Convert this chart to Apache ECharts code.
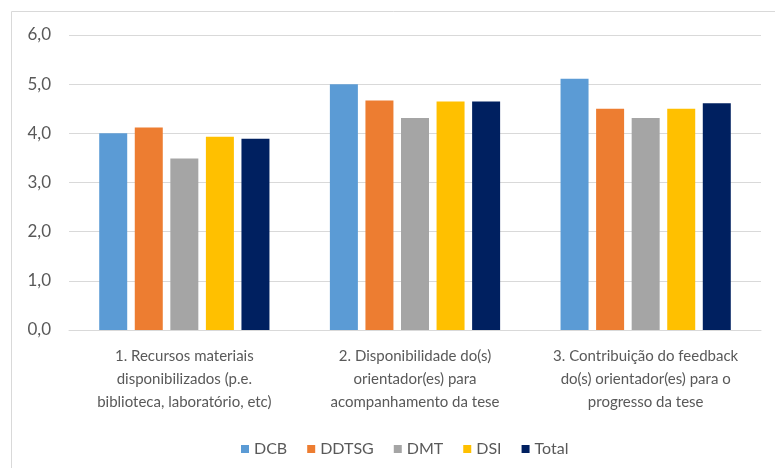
<!DOCTYPE html>
<html>
<head>
<meta charset="utf-8">
<script src="https://cdn.jsdelivr.net/npm/echarts@6/dist/echarts.min.js"></script>
<style>
  html, body { margin: 0; padding: 0; background: #fff; }
  #chart { width: 775px; height: 468px; }
</style>
</head>
<body>
<div id="chart"></div>
<script>
// categorias do eixo x
var categories = [
    '1. Recursos materiais\ndisponibilizados (p.e.\nbiblioteca, laboratório, etc)',
    '2. Disponibilidade do(s)\norientador(es) para\nacompanhamento da tese',
    '3. Contribuição do feedback\ndo(s) orientador(es) para o\nprogresso da tese'
];
var seriesNames = ['DCB', 'DDTSG', 'DMT', 'DSI', 'Total'];
var dcb = [4.00, 5.00, 5.11];
var ddtsg = [4.12, 4.67, 4.50];
var dmt = [3.49, 4.31, 4.31];
var dsi = [3.93, 4.65, 4.50];
var total = [3.89, 4.65, 4.61];
var colors = ['#5B9BD5', '#ED7D31', '#A5A5A5', '#FFC000', '#002060'];

var font = "Lato, 'Open Sans', sans-serif";
var chart = echarts.init(document.getElementById('chart'));

var values = [dcb, ddtsg, dmt, dsi, total];
var series = [];
for (var i = 0; i < seriesNames.length; i++) {
    series.push({
        name: seriesNames[i],
        type: 'bar',
        data: values[i],
        barWidth: 28,
        barGap: '27%',
        itemStyle: { color: colors[i] }
    });
}

chart.setOption({
    animation: false,
    color: colors,
    textStyle: { fontFamily: font },
    graphic: [{
        type: 'rect',
        shape: { x: 11.5, y: 11.5, width: 800, height: 500 },
        style: { fill: 'none', stroke: '#d9d9d9', lineWidth: 1 }
    }],
    grid: { left: 69, right: 14, top: 35, bottom: 138 },
    legend: {
        data: seriesNames,
        left: 236,
        top: 436,
        itemWidth: 8,
        itemHeight: 8,
        itemGap: 20,
        icon: 'rect',
        textStyle: { color: '#595959', fontSize: 16, fontFamily: font }
    },
    xAxis: {
        type: 'category',
        data: categories,
        axisLine: { lineStyle: { color: '#d9d9d9' } },
        axisTick: { show: false },
        axisLabel: {
            color: '#595959',
            fontSize: 15,
            lineHeight: 23,
            margin: 15,
            interval: 0,
            fontFamily: font
        }
    },
    yAxis: {
        type: 'value',
        min: 0,
        max: 6,
        interval: 1,
        axisLine: { show: false },
        axisTick: { show: false },
        splitLine: { lineStyle: { color: '#d9d9d9', width: 1 } },
        axisLabel: {
            color: '#595959',
            fontSize: 17,
            margin: 18,
            fontFamily: font,
            formatter: function (v) { return v.toFixed(1).replace('.', ','); }
        }
    },
    series: series
});
</script>
</body>
</html>
